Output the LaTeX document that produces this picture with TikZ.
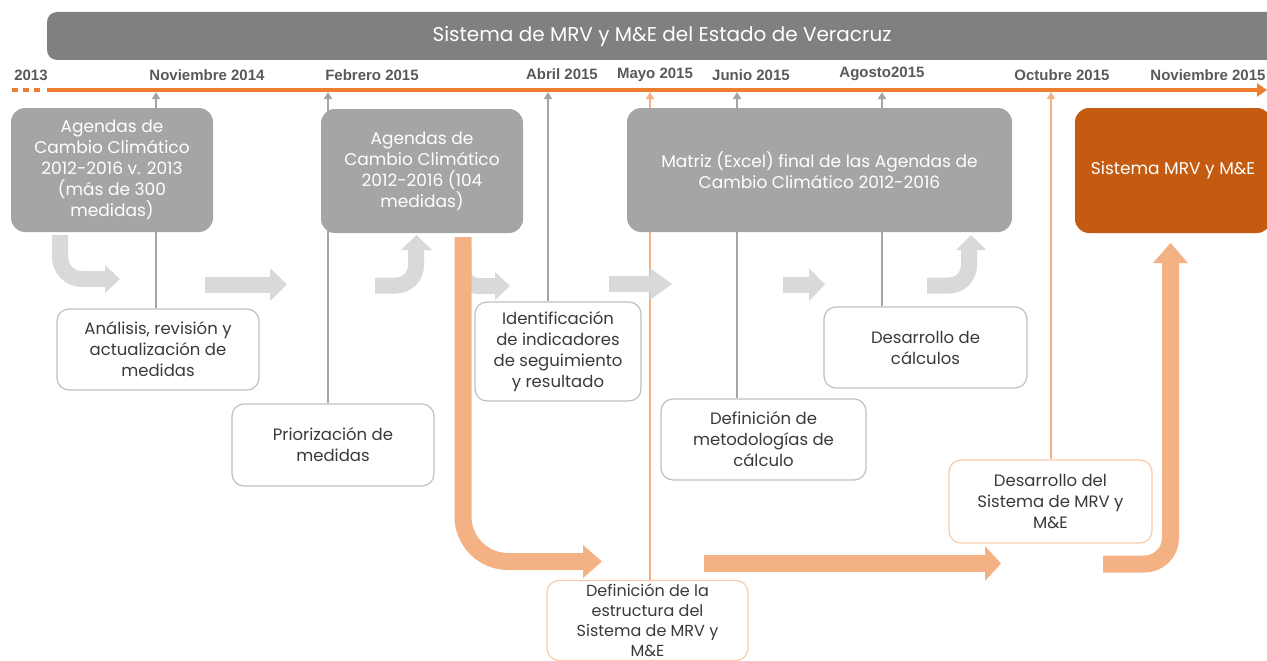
\documentclass[tikz,border=0pt]{standalone}
\usepackage{fontspec}
\setmainfont{Poppins}
\newfontfamily\datefont{Liberation Sans}
\usetikzlibrary{arrows.meta,backgrounds}
\definecolor{titlegray}{HTML}{808080}
\definecolor{boxgray}{HTML}{A5A5A5}
\definecolor{darkorange}{HTML}{C55A11}
\definecolor{tlorange}{HTML}{ED7D31}
\definecolor{lightorange}{HTML}{F4B183}
\definecolor{paleorange}{HTML}{F8CBAD}
\definecolor{arrowgray}{HTML}{D9D9D9}
\definecolor{linegray}{HTML}{A5A5A5}
\definecolor{wborder}{HTML}{BFBFBF}
\definecolor{wtext}{HTML}{3A3A3A}
\definecolor{dategray}{HTML}{595959}
\newcommand\grayboxfont{\fontsize{17}{21}\selectfont}
\newcommand\whiteboxfont{\fontsize{16.5}{21}\selectfont}
\tikzset{
  titlebar/.style={rounded corners=10pt, fill=titlegray, text=white, font=\fontsize{20}{24}\selectfont},
  gbox/.style={rounded corners=14pt, fill=boxgray, text=white, align=center, font=\grayboxfont, inner sep=2pt},
  obigbox/.style={gbox, fill=darkorange},
  wbox/.style={rounded corners=12pt, draw=wborder, line width=1.2pt, fill=white, text=wtext, align=center, font=\whiteboxfont, inner sep=2pt},
  obox/.style={wbox, draw=paleorange},
  conn/.style={draw=linegray, line width=2pt, -{Triangle[length=7pt,width=8pt]}},
  oconn/.style={conn, draw=lightorange},
  datelbl/.style={font=\datefont\bfseries\fontsize{15}{17}\selectfont, text=dategray},
  timeline/.style={draw=tlorange, line width=4pt},
  garrow/.style={draw=arrowgray, line width=16pt},
  oarrow/.style={draw=lightorange, line width=17pt},
}
\begin{document}
\begin{tikzpicture}[x=1pt,y=-1pt]
\useasboundingbox (0,0) rectangle (1267,661);

% title
\node[titlebar, minimum width=1230pt, minimum height=48pt] (title) at (662,36) {Sistema de MRV y M\&E del Estado de Veracruz};

% timeline
\coordinate (tlstart) at (47,90);
\coordinate (tlend) at (1267,90);
\draw[timeline, dash pattern=on 6pt off 5pt] (12,90) -- (44,90);
\draw[timeline, -{Triangle[length=10pt,width=13pt]}] (tlstart) -- (tlend);

% dates
\node[datelbl] (d0) at (31,75) {2013};
\node[datelbl] (d1) at (207,75) {Noviembre 2014};
\node[datelbl] (d2) at (372,75) {Febrero 2015};
\node[datelbl] (d3) at (562,74) {Abril 2015};
\node[datelbl] (d4) at (655,75) {Mayo 2015};
\node[datelbl] (d5) at (751,75) {Junio 2015};
\node[datelbl] (d6) at (882,74) {Agosto2015};
\node[datelbl] (d7) at (1062,75) {Octubre 2015};
\node[datelbl] (d8) at (1208,75) {Noviembre 2015};

% timeline anchor points
\coordinate (t1) at (156,92);
\coordinate (t2) at (328,92);
\coordinate (t3) at (548,92);
\coordinate (t4) at (650,92);
\coordinate (t5) at (737,92);
\coordinate (t6) at (882,92);
\coordinate (t7) at (1051,92);

% gray boxes
\node[gbox, minimum width=202pt, minimum height=124pt] (a1) at (112,170) {Agendas de\\Cambio Climático\\2012-2016 v. 2013\\(más de 300\\medidas)};
\node[gbox, minimum width=202pt, minimum height=124pt] (a2) at (422,171) {Agendas de\\Cambio Climático\\2012-2016 (104\\medidas)};
\node[gbox, minimum width=385pt, minimum height=124pt] (mx) at (819.5,170) {Matriz (Excel) final de las Agendas de\\Cambio Climático 2012-2016};
\node[obigbox, minimum width=196pt, minimum height=125pt] (sis) at (1173,170.5) {Sistema MRV y M\&E};

% white boxes
\node[wbox, minimum width=202pt, minimum height=81pt] (ana) at (158,349.5) {Análisis, revisión y\\actualización de\\medidas};
\node[wbox, minimum width=202pt, minimum height=82pt] (pri) at (333,445) {Priorización de\\medidas};
\node[wbox, minimum width=166pt, minimum height=99pt] (ide) at (558,351.5) {Identificación\\de indicadores\\de seguimiento\\y resultado};
\node[wbox, minimum width=205pt, minimum height=81pt] (met) at (763.5,439.5) {Definición de\\metodologías de\\cálculo};
\node[wbox, minimum width=203pt, minimum height=81pt] (cal) at (925.5,347.5) {Desarrollo de\\cálculos};
\node[obox, minimum width=203pt, minimum height=83pt] (des) at (1050.5,501.5) {Desarrollo del\\Sistema de MRV y\\M\&E};
\node[obox, minimum width=201pt, minimum height=80pt, inner ysep=0.5pt, font=\fontsize{16}{20}\selectfont] (est) at (647.5,620.5) {Definición de la\\estructura del\\Sistema de MRV y\\M\&E};

% connectors to the timeline (behind boxes)
\begin{scope}[on background layer]
\draw[conn] (t1 |- ana.north) -- (t1);
\draw[conn] (t2 |- pri.north) -- (t2);
\draw[conn] (t3 |- ide.north) -- (t3);
\draw[conn] (t5 |- met.north) -- (t5);
\draw[conn] (t6 |- cal.north) -- (t6);
\draw[oconn, line width=1.6pt] (t4 |- est.north) -- (t4);
\draw[oconn, line width=1.6pt] (t7 |- des.north) -- (t7);
\end{scope}

% gray block arrows
\draw[garrow, rounded corners=22pt] (60,235) -- (60,279) -- (106,279);
\fill[arrowgray] (105,265) -- (120,279) -- (105,293) -- cycle;

\draw[garrow] (205,284.5) -- (271,284.5);
\fill[arrowgray] (270,268) -- (287,284.5) -- (270,301) -- cycle;

\draw[garrow, rounded corners=20pt] (375,285.5) -- (416,285.5) -- (416,249);
\fill[arrowgray] (401,250) -- (416.5,235) -- (432,250) -- cycle;

\draw[garrow, rounded corners=15pt] (463,250) -- (463,286) -- (496,286);
\fill[arrowgray] (495,272) -- (510,286) -- (495,300) -- cycle;

\draw[garrow] (609,284) -- (651,284);
\fill[arrowgray] (650,268) -- (672,284) -- (650,300) -- cycle;

\draw[garrow] (783,284.5) -- (810,284.5);
\fill[arrowgray] (809,268) -- (825,284.5) -- (809,301) -- cycle;

\draw[garrow, rounded corners=20pt] (927,285.5) -- (969,285.5) -- (969,249);
\fill[arrowgray] (956,250) -- (971,235) -- (986,250) -- cycle;

% orange block arrows
\draw[oarrow, rounded corners=45pt] (463,237) -- (463,561.5) -- (584,561.5);
\fill[lightorange] (583,545) -- (602,561.5) -- (583,578) -- cycle;

\draw[oarrow] (704,563.5) -- (986,563.5);
\fill[lightorange] (985,546) -- (1001,563.5) -- (985,581) -- cycle;

\draw[oarrow, rounded corners=26pt] (1103,564) -- (1170.5,564) -- (1170.5,262);
\fill[lightorange] (1153,263) -- (1170.5,243) -- (1188,263) -- cycle;
\end{tikzpicture}
\end{document}
